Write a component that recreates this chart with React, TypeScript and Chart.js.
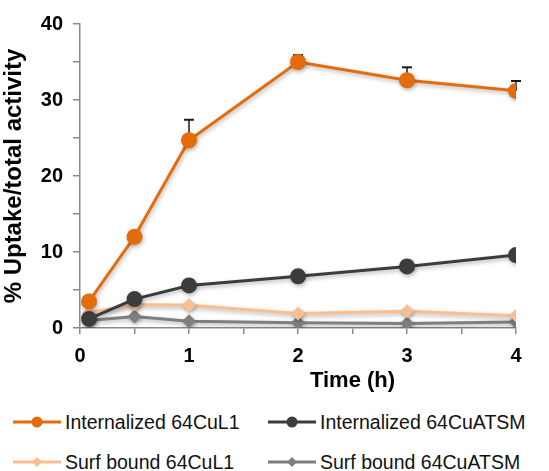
import React, { useEffect, useRef } from "react";
import { Chart, registerables } from "chart.js";

Chart.register(...registerables);

const times = [0.083, 0.5, 1, 2, 3, 4];
const internalizedL1 = [3.5, 12.0, 24.7, 35.0, 32.6, 31.2];
const internalizedL1Err = [0, 0, 2.7, 0.9, 1.7, 1.3];
const internalizedATSM = [1.2, 3.8, 5.6, 6.8, 8.1, 9.6];
const surfL1 = [2.0, 3.1, 3.0, 1.9, 2.2, 1.6];
const surfATSM = [1.0, 1.5, 0.9, 0.7, 0.6, 0.8];

const seriesNames = [
  "Internalized 64CuL1",
  "Internalized 64CuATSM",
  "Surf bound 64CuL1",
  "Surf bound 64CuATSM",
];
const colors = ["#E46C0A", "#3C3C3C", "#FBBF8F", "#7F7F7F"];
const xTitle = "Time (h)";
const yTitle = "% Uptake/total activity";

const FONT = '"Liberation Sans", Arial, Helvetica, sans-serif';

function toXY(vals: number[]) {
  return vals.map((v, i) => ({ x: times[i], y: v }));
}

const shadowPlugin = {
  id: "shadowPlugin",
  beforeDatasetsDraw(chart: any) {
    const ctx = chart.ctx;
    ctx.save();
    ctx.shadowColor = "rgba(0,0,0,0.30)";
    ctx.shadowBlur = 4;
    ctx.shadowOffsetX = 1;
    ctx.shadowOffsetY = 2;
  },
  afterDatasetsDraw(chart: any) {
    chart.ctx.restore();
  },
};

const errorBarPlugin = {
  id: "errorBarPlugin",
  beforeDatasetsDraw(chart: any) {
    const ctx = chart.ctx;
    const xs = chart.scales.x;
    const ys = chart.scales.y;
    ctx.save();
    ctx.strokeStyle = "#1a1a1a";
    internalizedL1.forEach((v, i) => {
      const e = internalizedL1Err[i];
      if (!e) return;
      const px = xs.getPixelForValue(times[i]);
      const y1 = ys.getPixelForValue(v);
      const y2 = ys.getPixelForValue(v + e);
      ctx.lineWidth = 1.5;
      ctx.beginPath();
      ctx.moveTo(px, y1);
      ctx.lineTo(px, y2);
      ctx.stroke();
      ctx.lineWidth = 2;
      ctx.beginPath();
      ctx.moveTo(px - 5, y2);
      ctx.lineTo(px + 5, y2);
      ctx.stroke();
    });
    ctx.restore();
  },
};

const xTitlePlugin = {
  id: "xTitlePlugin",
  afterDraw(chart: any) {
    const ctx = chart.ctx;
    const xs = chart.scales.x;
    ctx.save();
    ctx.font = "bold 22px " + FONT;
    ctx.fillStyle = "#000";
    ctx.textAlign = "center";
    ctx.textBaseline = "middle";
    ctx.fillText(xTitle, xs.getPixelForValue(2.5), chart.chartArea.bottom + 53);
    ctx.restore();
  },
};

function LegendItem({ color, label, marker }: { color: string; label: string; marker: "circle" | "diamond" }) {
  return (
    <div style={{ display: "flex", alignItems: "center", height: 30 }}>
      <svg width={52} height={20} style={{ display: "block" }}>
        <line x1={1} y1={10} x2={49} y2={10} stroke={color} strokeWidth={3} />
        {marker === "circle" ? (
          <circle cx={25} cy={10} r={5.5} fill={color} />
        ) : (
          <polygon points="25,5 30,10 25,15 20,10" fill={color} />
        )}
      </svg>
      <span style={{ fontFamily: FONT, fontSize: 19.5, color: "#111", marginLeft: 1, whiteSpace: "nowrap" }}>
        {label}
      </span>
    </div>
  );
}

export default function App() {
  const canvasRef = useRef<HTMLCanvasElement | null>(null);

  useEffect(() => {
    if (!canvasRef.current) return;
    const mk = (i: number, vals: number[], style: string, r: number) => ({
      label: seriesNames[i],
      data: toXY(vals),
      borderColor: colors[i],
      backgroundColor: colors[i],
      pointBackgroundColor: colors[i],
      pointBorderColor: colors[i],
      borderWidth: 3,
      pointStyle: style,
      pointRadius: r,
      pointBorderWidth: 0,
      tension: 0,
    });
    const chart = new Chart(canvasRef.current, {
      type: "line",
      data: {
        datasets: [
          mk(0, internalizedL1, "circle", 8),
          mk(1, internalizedATSM, "circle", 8),
          mk(2, surfL1, "rectRot", 7),
          mk(3, surfATSM, "rectRot", 7),
        ] as any,
      },
      options: {
        animation: false,
        responsive: false,
        devicePixelRatio: 1,
        layout: { padding: { left: 0, top: 24, right: 33, bottom: 0 } },
        plugins: { legend: { display: false }, tooltip: { enabled: false } },
        scales: {
          x: {
            type: "linear",
            min: 0,
            max: 4,
            afterFit: (s: any) => {
              s.height = 72;
            },
            ticks: {
              stepSize: 0.5,
              autoSkip: false,
              maxRotation: 0,
              padding: 10,
              color: "#000",
              font: { family: FONT, size: 20, weight: "bold" },
              callback: (v: any) => (Number.isInteger(Number(v)) ? String(v) : ""),
            },
            grid: { drawOnChartArea: false, drawTicks: true, tickLength: 6, color: "#8a8a8a", lineWidth: 1.5 },
            border: { color: "#8a8a8a", width: 1.5 },
          },
          y: {
            type: "linear",
            min: 0,
            max: 40,
            afterFit: (s: any) => {
              s.width = 80;
            },
            ticks: {
              stepSize: 5,
              padding: 10,
              color: "#000",
              font: { family: FONT, size: 20, weight: "bold" },
              callback: (v: any) => (Number(v) % 10 === 0 ? String(v) : ""),
            },
            title: {
              display: true,
              text: yTitle,
              color: "#000",
              font: { family: FONT, size: 24, weight: "bold" },
              padding: { top: 0, bottom: 0 },
            },
            grid: { drawOnChartArea: false, drawTicks: true, tickLength: 7, color: "#8a8a8a", lineWidth: 1.5 },
            border: { color: "#8a8a8a", width: 1.5 },
          },
        },
      } as any,
      plugins: [errorBarPlugin, shadowPlugin, xTitlePlugin],
    });
    return () => chart.destroy();
  }, []);

  return (
    <div style={{ position: "absolute", left: 0, top: 0, width: 549, height: 471, background: "#fff", overflow: "hidden" }}>
      <canvas ref={canvasRef} width={549} height={400} style={{ display: "block", width: 549, height: 400 }} />
      <div style={{ position: "absolute", left: 12, top: 407 }}>
        <LegendItem color={colors[0]} label={seriesNames[0]} marker="circle" />
      </div>
      <div style={{ position: "absolute", left: 267, top: 407 }}>
        <LegendItem color={colors[1]} label={seriesNames[1]} marker="circle" />
      </div>
      <div style={{ position: "absolute", left: 12, top: 447 }}>
        <LegendItem color={colors[2]} label={seriesNames[2]} marker="diamond" />
      </div>
      <div style={{ position: "absolute", left: 267, top: 447 }}>
        <LegendItem color={colors[3]} label={seriesNames[3]} marker="diamond" />
      </div>
    </div>
  );
}
